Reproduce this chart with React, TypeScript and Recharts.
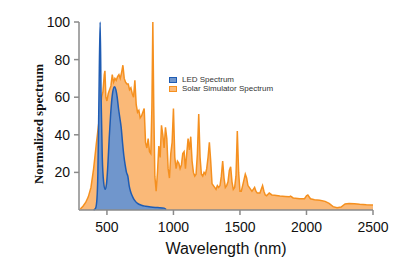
import React from 'react';
import { AreaChart, Area, XAxis, YAxis, Legend, Label } from 'recharts';

// solar simulator spectrum, sampled points [nm]
const solarNm = [
  300, 320, 340, 360, 380, 400, 420, 440, 450, 460, 470, 480, 485, 492, 500, 510, 520, 530, 540, 550,
  560, 570, 580, 590, 600, 610, 620, 630, 640, 650, 660, 670, 680, 690, 700, 710, 720, 730, 740, 750,
  760, 770, 780, 790, 800, 810, 820, 830, 838, 845, 852, 860, 870, 880, 890, 900, 910, 920, 930, 940,
  950, 960, 970, 980, 990, 1000, 1010, 1020, 1030, 1040, 1050, 1060, 1070, 1080, 1090, 1100, 1110, 1120, 1130, 1140,
  1150, 1160, 1170, 1180, 1190, 1200, 1210, 1220, 1230, 1240, 1250, 1260, 1270, 1280, 1290, 1300, 1310, 1320, 1330, 1340,
  1350, 1360, 1370, 1380, 1390, 1400, 1410, 1420, 1430, 1440, 1450, 1460, 1470, 1480, 1490, 1500, 1510, 1520, 1530, 1540,
  1550, 1560, 1570, 1580, 1590, 1600, 1610, 1620, 1630, 1650, 1660, 1670, 1680, 1690, 1700, 1720, 1740, 1760, 1800, 1840,
  1870, 1880, 1900, 1950, 1985, 2000, 2010, 2030, 2060, 2100, 2140, 2170, 2200, 2230, 2260, 2290, 2320, 2360, 2400, 2450,
  2500,
];
const solarVal = [
  0.5, 2, 4, 7, 12, 22, 35, 47, 53, 60, 63, 72, 74, 60, 58, 62, 64, 66, 72, 68,
  70, 69, 71, 72, 70, 73, 77, 70, 68, 67, 67, 64, 65, 62, 60, 69, 56, 52, 53, 49,
  50, 52, 54, 36, 33, 38, 31, 30, 55, 100, 55, 18, 10, 20, 34, 28, 45, 40, 33, 44,
  38, 22, 17, 30, 36, 54, 28, 22, 26, 25, 22, 24, 30, 31, 22, 30, 38, 32, 39, 26,
  20, 18, 19, 30, 51, 28, 19, 18, 20, 19, 22, 28, 36, 26, 14, 13, 12, 11, 13, 12,
  13, 18, 26, 17, 12, 13, 15, 21, 23, 15, 11, 12, 18, 42, 20, 10, 10, 13, 16, 19,
  17, 13, 12, 11, 10, 11, 12, 10, 9, 9, 11, 13, 10, 8, 7.6, 9, 8, 7.8, 7.4, 7.2,
  7, 7.4, 6.4, 6, 6, 7.6, 8, 6, 5.5, 5.2, 4.6, 3.5, 1.8, 1.2, 1.6, 3.2, 3.4, 3.3, 3, 2.8,
  2.7,
];

// LED spectrum
const ledNm = [
  400, 415, 425, 432, 440, 449, 456, 465, 475, 487, 497, 507, 517, 527, 537, 547, 557, 567, 577, 587,
  597, 607, 617, 627, 637, 647, 657, 667, 677, 687, 697, 710, 730, 760, 790, 830, 880, 930, 945,
];
const ledVal = [
  0, 1, 6, 20, 60, 100, 60, 28, 15, 11, 14, 24, 38, 50, 59, 64, 65.5, 64, 60, 54,
  49, 44, 36, 29, 24, 20, 18, 13, 10, 8, 6.5, 5, 3.5, 2.5, 2, 1.6, 1.3, 1, 0.3,
];

const xTicks = [500, 1000, 1500, 2000, 2500];
const yTicks = [20, 40, 60, 80, 100];

const ORANGE = '#f5901f';
const ORANGE_FILL = '#fab978';
const BLUE = '#1f5cb3';
const BLUE_FILL = '#7096cc';

const allNm = Array.from(new Set([...solarNm, ...ledNm])).sort((a, b) => a - b);
const data = allNm.map((nm) => {
  const si = solarNm.indexOf(nm);
  const li = ledNm.indexOf(nm);
  return {
    nm,
    solar: si >= 0 ? solarVal[si] : null,
    led: li >= 0 ? ledVal[li] : null,
  };
});

const legendItems = [
  { name: 'LED Spectrum', fill: BLUE_FILL, stroke: BLUE },
  { name: 'Solar Simulator Spectrum', fill: ORANGE_FILL, stroke: ORANGE },
];

const renderLegend = () => (
  <div style={{ fontFamily: 'Arial, "Liberation Sans", sans-serif', fontSize: 8, color: '#333', lineHeight: '9px' }}>
    {legendItems.map((it) => (
      <div key={it.name} style={{ display: 'flex', alignItems: 'center' }}>
        <span style={{ width: 6, height: 4, background: it.fill, border: `1px solid ${it.stroke}`, marginRight: 5 }} />
        <span>{it.name}</span>
      </div>
    ))}
  </div>
);

const YLabel = () => (
  <text
    x={38}
    y={124}
    transform="rotate(-90 38 124)"
    textAnchor="middle"
    dominantBaseline="central"
    fontFamily="Liberation Serif, Times New Roman, serif"
    fontWeight="bold"
    fontSize={13}
    fill="#111"
  >
    Normalized spectrum
  </text>
);

const App: React.FC = () => {
  const axisStyle = { stroke: '#8a8a8a', strokeWidth: 1.5 };
  const tickStyle = { fill: '#111', fontSize: 14, fontFamily: 'Arial, "Liberation Sans", sans-serif' };
  return (
    <div style={{ position: 'absolute', left: 0, top: 0, width: 401, height: 267, background: '#fff' }}>
      <AreaChart width={401} height={267} data={data} margin={{ top: 22, right: 28, left: 0, bottom: 0 }}>
        <XAxis
          dataKey="nm"
          type="number"
          domain={[290, 2500]}
          ticks={xTicks}
          height={57}
          axisLine={axisStyle}
          tickLine={axisStyle}
          tickSize={5}
          tickMargin={7}
          tick={tickStyle}
        >
          <Label
            value="Wavelength (nm)"
            position="insideBottom"
            offset={13}
            style={{ fill: '#111', fontSize: 16, fontFamily: 'Arial, "Liberation Sans", sans-serif' }}
          />
        </XAxis>
        <YAxis
          type="number"
          domain={[0, 100]}
          ticks={yTicks}
          width={79}
          axisLine={axisStyle}
          tickLine={axisStyle}
          tickSize={5}
          tickMargin={4}
          tick={tickStyle}
        >
          <Label content={<YLabel />} />
        </YAxis>
        <Legend
          content={renderLegend}
          layout="vertical"
          align="center"
          verticalAlign="middle"
          wrapperStyle={{ position: 'absolute', left: 169, top: 75, width: 140 }}
        />
        <Area
          type="linear"
          dataKey="solar"
          name="Solar Simulator Spectrum"
          stroke={ORANGE}
          strokeWidth={1.5}
          fill={ORANGE_FILL}
          fillOpacity={1}
          connectNulls
          isAnimationActive={false}
          dot={false}
        />
        <Area
          type="monotone"
          dataKey="led"
          name="LED Spectrum"
          stroke={BLUE}
          strokeWidth={1.5}
          fill={BLUE_FILL}
          fillOpacity={1}
          connectNulls
          isAnimationActive={false}
          dot={false}
        />
      </AreaChart>
    </div>
  );
};

export default App;
